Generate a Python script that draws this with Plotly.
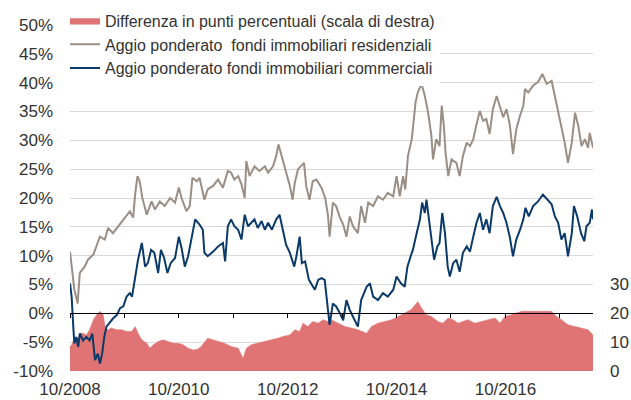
import numpy as np
import pandas as pd
import plotly.graph_objects as go

# ---------------- data (time in decimal years) ----------------
# Aggio ponderato fondi immobiliari residenziali (%)
res_t = [2008.75, 2008.83, 2008.89, 2008.93,
         2009.02, 2009.08, 2009.18, 2009.24, 2009.30, 2009.39, 2009.45, 2009.54, 2009.67, 2009.76, 2009.85, 2009.91, 2009.95, 2009.99,
         2010.03, 2010.08, 2010.16, 2010.25, 2010.31, 2010.40, 2010.49, 2010.59, 2010.68, 2010.75, 2010.80, 2010.89, 2010.95,
         2011.00, 2011.08, 2011.13, 2011.22, 2011.28, 2011.38, 2011.47, 2011.56, 2011.65, 2011.71, 2011.77, 2011.84, 2011.90, 2011.96, 2011.99,
         2012.05, 2012.14, 2012.23, 2012.33, 2012.39, 2012.48, 2012.54, 2012.58, 2012.63, 2012.69, 2012.79, 2012.84, 2012.88, 2012.94, 2012.99,
         2013.05, 2013.09, 2013.15, 2013.21, 2013.28, 2013.37, 2013.44, 2013.49, 2013.52, 2013.58, 2013.64, 2013.71, 2013.77, 2013.83, 2013.89, 2013.95,
         2014.04, 2014.10, 2014.17, 2014.23, 2014.32, 2014.41, 2014.50, 2014.59, 2014.69, 2014.75, 2014.81, 2014.87, 2014.91, 2014.96,
         2015.03, 2015.10, 2015.14, 2015.21, 2015.27, 2015.33, 2015.39, 2015.42, 2015.48, 2015.54, 2015.58, 2015.62, 2015.65, 2015.70, 2015.76, 2015.85, 2015.91, 2015.97,
         2016.04, 2016.10, 2016.16, 2016.22, 2016.28, 2016.34, 2016.40, 2016.46, 2016.52, 2016.59, 2016.65, 2016.71, 2016.77, 2016.83, 2016.89, 2016.95,
         2017.02, 2017.08, 2017.11, 2017.17, 2017.26, 2017.35, 2017.43, 2017.51, 2017.60, 2017.66, 2017.72, 2017.78, 2017.84, 2017.90, 2017.97,
         2018.03, 2018.09, 2018.15, 2018.21, 2018.27, 2018.30, 2018.36]
res_v = [10.7, 4.1, 1.7, 7.0,
         8.1, 9.3, 10.2, 11.6, 13.3, 12.8, 14.8, 13.9, 15.4, 16.6, 17.7, 16.6, 20.9, 23.8,
         22.9, 20.0, 17.1, 19.4, 18.0, 19.4, 18.6, 20.0, 19.2, 21.8, 20.0, 17.7, 18.6,
         23.5, 22.9, 23.5, 19.7, 21.5, 22.1, 23.2, 21.8, 24.7, 24.4, 23.2, 23.8, 22.4, 20.0, 26.4,
         23.8, 25.5, 24.7, 25.5, 24.4, 25.5, 27.3, 29.3, 27.6, 25.5, 22.1, 19.7, 22.6, 25.0, 25.5,
         26.1, 22.1, 19.7, 22.9, 23.2, 21.8, 20.0, 17.0, 13.3, 19.2, 18.6, 16.6, 15.4, 13.3, 16.8, 15.1,
         13.9, 18.6, 15.7, 19.2, 18.6, 20.3, 19.7, 20.9, 20.3, 23.8, 20.3, 23.8, 21.5, 27.3,
         30.2, 36.6, 38.3, 39.8, 37.7, 34.8, 30.8, 26.7, 30.2, 29.0, 36.0, 32.5, 27.9, 23.8, 26.7, 26.1, 23.8, 27.3,
         29.6, 29.0, 30.2, 32.8, 35.1, 33.4, 33.7, 31.1, 35.4, 37.7, 36.0, 34.0, 35.4, 32.8, 27.6, 31.9,
         34.3, 36.0, 38.9, 38.3, 39.5, 40.1, 41.5, 39.8, 40.3, 37.7, 35.4, 32.5, 29.6, 26.1, 29.6,
         34.8, 32.5, 29.0, 30.2, 28.7, 31.3, 28.7]

# Aggio ponderato fondi immobiliari commerciali (%)
com_t = [2008.75, 2008.78, 2008.81, 2008.83, 2008.87, 2008.90, 2008.93, 2008.99,
         2009.05, 2009.11, 2009.16, 2009.21, 2009.26, 2009.30, 2009.34, 2009.38, 2009.42, 2009.48, 2009.54, 2009.61, 2009.67, 2009.73, 2009.79, 2009.85, 2009.89, 2009.94,
         2010.00, 2010.07, 2010.13, 2010.18, 2010.24, 2010.30, 2010.37, 2010.42, 2010.48, 2010.54, 2010.60, 2010.68, 2010.75, 2010.80, 2010.86, 2010.92, 2010.98,
         2011.05, 2011.13, 2011.19, 2011.22, 2011.28, 2011.38, 2011.47, 2011.56, 2011.60, 2011.65, 2011.71, 2011.77, 2011.84, 2011.90, 2011.96,
         2012.02, 2012.08, 2012.14, 2012.20, 2012.27, 2012.33, 2012.39, 2012.46, 2012.54, 2012.60, 2012.66, 2012.72, 2012.79, 2012.87, 2012.91, 2012.97,
         2013.01, 2013.07, 2013.14, 2013.20, 2013.25, 2013.31, 2013.37, 2013.43, 2013.47, 2013.52, 2013.58, 2013.64, 2013.71, 2013.77, 2013.83, 2013.89, 2013.95,
         2014.01, 2014.04, 2014.10, 2014.20, 2014.26, 2014.32, 2014.41, 2014.50, 2014.59, 2014.69, 2014.75, 2014.83, 2014.90, 2014.95,
         2015.01, 2015.05, 2015.12, 2015.18, 2015.22, 2015.27, 2015.30, 2015.34, 2015.39, 2015.44, 2015.50, 2015.54, 2015.59, 2015.64, 2015.69, 2015.73, 2015.79, 2015.85, 2015.91, 2015.97,
         2016.04, 2016.10, 2016.16, 2016.22, 2016.28, 2016.34, 2016.40, 2016.46, 2016.52, 2016.59, 2016.65, 2016.71, 2016.77, 2016.83, 2016.89, 2016.95,
         2017.02, 2017.08, 2017.12, 2017.18, 2017.26, 2017.35, 2017.44, 2017.52, 2017.60, 2017.66, 2017.72, 2017.78, 2017.84, 2017.90, 2017.97,
         2018.01, 2018.07, 2018.14, 2018.20, 2018.24, 2018.30, 2018.34, 2018.36]
com_v = [5.2, 2.9, -2.3, -5.2, -4.1, -5.8, -3.5, -4.7,
         -4.1, -4.7, -3.5, -8.1, -7.0, -8.7, -7.0, -4.1, -2.3, -1.5, -0.9, -0.3, 0.9, 1.2, 2.9, 3.5, 2.9, 5.8,
         9.3, 12.2, 8.1, 8.7, 11.0, 10.5, 7.0, 11.0, 9.6, 7.0, 8.7, 9.6, 13.3, 11.3, 8.1, 9.9, 12.8,
         16.3, 15.4, 14.5, 10.5, 9.9, 10.7, 11.6, 12.2, 9.0, 15.1, 16.3, 15.1, 14.5, 12.8, 17.1,
         15.1, 15.7, 16.3, 14.8, 16.0, 14.5, 15.7, 14.5, 16.3, 17.1, 14.5, 11.9, 10.5, 8.1, 9.9, 13.3,
         8.7, 9.0, 5.8, 4.9, 4.1, 5.8, 6.1, 5.8, 2.3, -2.0, 1.7, 1.2, 0.0, -1.2, 2.3, 0.6, -0.6,
         -1.7, -2.3, 2.3, 4.6, 5.2, 2.9, 2.3, 3.5, 2.9, 4.1, 6.4, 5.2, 4.6, 8.1,
         9.9, 11.0, 13.9, 16.3, 19.2, 17.4, 19.7, 16.8, 13.9, 9.3, 11.6, 12.2, 17.4, 13.9, 8.1, 6.4, 8.7, 9.3, 7.2, 10.5,
         11.6, 10.7, 13.3, 15.7, 17.4, 14.5, 16.3, 13.9, 18.6, 20.2, 18.6, 17.4, 15.7, 13.3, 9.9, 12.8,
         14.5, 16.3, 18.3, 16.8, 18.6, 19.4, 20.6, 19.7, 18.9, 16.8, 15.7, 12.8, 13.9, 9.9, 13.9,
         18.6, 16.8, 13.9, 12.5, 15.1, 15.7, 18.0, 16.3]

# Differenza in punti percentuali (scala di destra)
diff_t = [2008.75, 2008.78, 2008.84, 2008.90, 2008.93, 2008.99,
          2009.05, 2009.11, 2009.18, 2009.24, 2009.30, 2009.36, 2009.40, 2009.45, 2009.51, 2009.61, 2009.70, 2009.79, 2009.88, 2009.95,
          2010.00, 2010.07, 2010.16, 2010.22, 2010.28, 2010.37, 2010.46, 2010.56, 2010.65, 2010.74, 2010.83, 2010.92,
          2011.02, 2011.10, 2011.16, 2011.28, 2011.38, 2011.47, 2011.59, 2011.71, 2011.84, 2011.93, 2011.99,
          2012.08, 2012.20, 2012.33, 2012.45, 2012.57, 2012.66, 2012.79, 2012.88, 2012.97,
          2013.03, 2013.12, 2013.21, 2013.31, 2013.40, 2013.49, 2013.55, 2013.67, 2013.80, 2013.92,
          2014.04, 2014.20, 2014.29, 2014.41, 2014.53, 2014.66, 2014.78, 2014.90,
          2015.02, 2015.12, 2015.14, 2015.21, 2015.30, 2015.39, 2015.51, 2015.60, 2015.70, 2015.79, 2015.88, 2015.97,
          2016.06, 2016.19, 2016.31, 2016.43, 2016.56, 2016.65, 2016.74, 2016.86, 2016.95,
          2017.05, 2017.23, 2017.41, 2017.60, 2017.69, 2017.78, 2017.90,
          2018.03, 2018.15, 2018.27, 2018.33, 2018.36]
diff_v = [8.5, 9.0, 12.0, 10.8, 13.1, 13.1,
          12.5, 14.3, 17.8, 19.5, 20.7, 19.5, 14.9, 14.3, 14.9, 14.3, 14.3, 13.7, 13.7, 15.4,
          13.1, 10.8, 9.6, 7.9, 9.1, 10.2, 10.8, 10.2, 9.6, 9.6, 9.1, 7.9,
          7.3, 7.6, 8.5, 11.4, 10.8, 10.2, 9.6, 8.5, 7.9, 4.4, 7.9,
          9.1, 9.6, 10.2, 10.8, 11.4, 12.0, 12.5, 14.3, 13.7,
          16.6, 15.4, 17.2, 16.6, 17.8, 17.2, 17.8, 16.6, 15.4, 14.9,
          14.3, 13.1, 15.4, 16.6, 17.2, 17.8, 18.9, 20.1,
          21.3, 23.6, 24.1, 21.8, 19.5, 18.9, 17.2, 16.6, 18.4, 17.8, 16.6, 17.2,
          17.8, 16.6, 17.2, 17.8, 18.4, 16.6, 18.9, 19.5, 20.1,
          20.7, 20.7, 20.7, 20.7, 18.9, 17.8, 16.0,
          15.4, 14.9, 14.3, 13.1, 12.5]

# ---------------- axis labels ----------------
x_label_dates = ["2008-10-01", "2010-10-01", "2012-10-01", "2014-10-01", "2016-10-01"]
x_labels = ["10/2008", "10/2010", "10/2012", "10/2014", "10/2016"]
x_year_ticks = ["2008-10-01", "2009-10-01", "2010-10-01", "2011-10-01", "2012-10-01",
                "2013-10-01", "2014-10-01", "2015-10-01", "2016-10-01", "2017-10-01"]
y_left_vals = [-10, -5, 0, 5, 10, 15, 20, 25, 30, 35, 40, 45, 50]
y_left_text = ["-10%", "-5%", "0%", "5%", "10%", "15%", "20%", "25%", "30%", "35%", "40%", "45%", "50%"]
y_right_vals = [0, 10, 20, 30]
y_right_text = ["0", "10", "20", "30"]

names = ["Differenza in punti percentuali (scala di destra)",
         "Aggio ponderato  fondi immobiliari residenziali",
         "Aggio ponderato fondi immobiliari commerciali"]

RED = "#E07373"
GREY = "#9A8E85"
NAVY = "#0B3A69"
TXT = "#333333"
FONT = "Liberation Sans, Arial, Helvetica, sans-serif"


def to_dates(t):
    t = np.asarray(t, dtype=float)
    return pd.Timestamp("2008-01-01") + pd.to_timedelta((t - 2008.0) * 365.25, unit="D")


x_start = to_dates([res_t[0]])[0]
x_end = to_dates([res_t[-1]])[0]

fig = go.Figure()
fig.add_trace(go.Scatter(
    x=to_dates(diff_t), y=diff_v, name=names[0], yaxis="y2",
    mode="lines", fill="tozeroy", fillcolor=RED,
    line=dict(color=RED, width=0.5),
))
fig.add_trace(go.Scatter(
    x=to_dates(res_t), y=res_v, name=names[1], mode="lines",
    line=dict(color=GREY, width=2),
))
fig.add_trace(go.Scatter(
    x=to_dates(com_t), y=com_v, name=names[2], mode="lines", xaxis="x2",
    line=dict(color=NAVY, width=2),
))

fig.update_layout(
    width=631, height=400,
    margin=dict(l=70, r=38, t=25, b=29, autoexpand=False),
    paper_bgcolor="white", plot_bgcolor="white",
    font=dict(family=FONT, size=17, color=TXT),
    showlegend=True,
    legend=dict(
        xref="container", yref="container",
        x=0.103, y=0.991, xanchor="left", yanchor="top",
        bgcolor="white", borderwidth=0,
        font=dict(family=FONT, size=16, color=TXT),
        tracegroupgap=0, itemwidth=30,
    ),
    xaxis=dict(
        type="date", range=[x_start, x_end], automargin=False,
        tickmode="array", tickvals=x_label_dates, ticktext=x_labels,
        ticks="", showgrid=False, showline=False, zeroline=False,
        tickfont=dict(size=17, color=TXT), ticklabelstandoff=6,
    ),
    xaxis2=dict(
        type="date", range=[x_start, x_end], overlaying="x", automargin=False,
        anchor="free", position=1 / 6,
        tickmode="array", tickvals=x_year_ticks, showticklabels=False,
        ticks="outside", ticklen=4, tickcolor="black", tickwidth=1,
        showline=True, linecolor="black", linewidth=1,
        showgrid=False, zeroline=False,
    ),
    yaxis=dict(
        range=[-10, 50], tickmode="array", tickvals=y_left_vals, ticktext=y_left_text,
        showgrid=True, gridcolor="#D9D9D9", gridwidth=1, automargin=False,
        zeroline=False, showline=False, ticks="",
        tickfont=dict(size=17, color=TXT), ticklabelstandoff=16,
    ),
    yaxis2=dict(
        range=[0, 120], overlaying="y", side="right", automargin=False,
        tickmode="array", tickvals=y_right_vals, ticktext=y_right_text,
        showgrid=False, zeroline=False, showline=False, ticks="",
        tickfont=dict(size=17, color=TXT), ticklabelstandoff=16,
    ),
)

fig.write_html(
    "out.html",
    config={"displayModeBar": False},
    post_script="document.body.style.margin='0px';document.body.style.padding='0px';"
                "document.body.style.overflow='hidden';",
)
